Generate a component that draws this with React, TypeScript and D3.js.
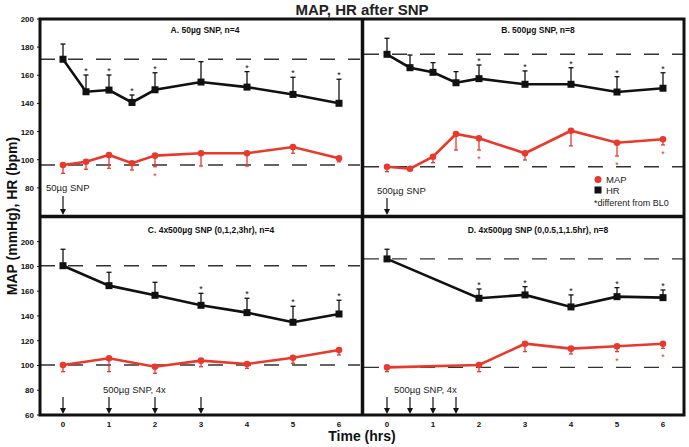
import React from "react";
import * as d3 from "d3";

// ---------- data ----------
const timesA = [0, 0.5, 1, 1.5, 2, 3, 4, 5, 6];
const hrA = [171.4, 148.3, 149.5, 140.7, 149.7, 155.2, 151.6, 146.4, 140.1];
const hrErrA = [10.8, 11.9, 10.7, 5.3, 12.1, 14.5, 11, 12.2, 17.1];
const hrSigA = [0.5, 1, 1.5, 2, 4, 5, 6];
const mapA = [96.2, 98.6, 103.4, 97.5, 102.9, 104.6, 104.6, 109, 101];
const mapErrA = [5.9, 5.4, 9.5, 4.8, 7.9, 9.1, 9.1, 4.4, 2.5];
const mapSigA = [2];

const timesB = [0, 0.5, 1, 1.5, 2, 3, 4, 5, 6];
const hrB = [174.9, 165.4, 162.1, 154.7, 157.6, 153.6, 153.6, 148.1, 150.8];
const hrErrB = [11.4, 9, 6.9, 7.9, 9.7, 9.5, 11.8, 10.9, 11];
const hrSigB = [2, 3, 4, 5, 6];
const mapB = [95, 93.6, 102.1, 118.3, 115.2, 104.6, 120.6, 112.1, 114.5];
const mapErrB = [3.5, 0.9, 4.2, 11.4, 8.3, 4.8, 10.8, 9.5, 4];
const mapSigB = [2, 5, 6];

const timesC = [0, 1, 2, 3, 4, 5, 6];
const hrC = [180.6, 164.5, 156.7, 148.6, 142.7, 134.9, 141.6];
const hrErrC = [13.3, 10.8, 10.5, 9.7, 11.6, 12.9, 11.1];
const hrSigC = [3, 4, 5, 6];
const mapC = [100.4, 105.8, 99, 103.9, 101.2, 106.3, 112.5];
const mapErrC = [5.4, 10.8, 5.3, 4.9, 3.5, 4.5, 4];
const mapSigC: number[] = [];

const timesD = [0, 2, 3, 4, 5, 6];
const hrD = [186.1, 154.3, 157, 147.3, 155.6, 154.8];
const hrErrD = [7.8, 7.5, 6.7, 9.7, 7.3, 6.2];
const hrSigD = [2, 3, 4, 5, 6];
const mapD = [98.5, 100.4, 117.6, 113.6, 115.5, 117.6];
const mapErrD = [3.5, 5.4, 6.4, 4.3, 4.3, 3.7];
const mapSigD = [5, 6];

const titles = [
  "A. 50µg SNP, n=4",
  "B. 500µg SNP, n=8",
  "C. 4x500µg SNP (0,1,2,3hr), n=4",
  "D. 4x500µg SNP (0,0.5,1,1.5hr), n=8",
];
const doseLabels = ["50µg SNP", "500µg SNP", "500µg SNP, 4x", "500µg SNP, 4x"];
const doseTimesA = [0];
const doseTimesB = [0];
const doseTimesC = [0, 1, 2, 3];
const doseTimesD = [0, 0.5, 1, 1.5];

const topYTicks = [80, 100, 120, 140, 160, 180, 200];
const bottomYTicks = [60, 80, 100, 120, 140, 160, 180, 200];
const xTicks = [0, 1, 2, 3, 4, 5, 6];

// ---------- layout ----------
const FONT = "'Liberation Sans', Arial, Helvetica, sans-serif";
const RED = "#e8392d";
const xLeft = d3.scaleLinear().domain([-0.5, 6.5]).range([40, 362]);
const xRight = d3.scaleLinear().domain([-0.5, 6.5]).range([364, 686]);
const yTop = d3.scaleLinear().domain([60, 200]).range([216, 19]);
const yBot = d3.scaleLinear().domain([60, 200]).range([415, 241.7]);

type PanelDef = {
  times: number[];
  hr: number[];
  hrErr: number[];
  hrSig: number[];
  map: number[];
  mapErr: number[];
  mapSig: number[];
  doses: number[];
  title: string;
  dose: string;
  x: d3.ScaleLinear<number, number>;
  y: d3.ScaleLinear<number, number>;
  titleX: number;
  titleY: number;
  doseX: number;
  doseY: number;
  arrowTop: number;
};

const panels: PanelDef[] = [
  { times: timesA, hr: hrA, hrErr: hrErrA, hrSig: hrSigA, map: mapA, mapErr: mapErrA, mapSig: mapSigA, doses: doseTimesA, title: titles[0], dose: doseLabels[0], x: xLeft, y: yTop, titleX: 205, titleY: 33, doseX: 46, doseY: 191, arrowTop: 196 },
  { times: timesB, hr: hrB, hrErr: hrErrB, hrSig: hrSigB, map: mapB, mapErr: mapErrB, mapSig: mapSigB, doses: doseTimesB, title: titles[1], dose: doseLabels[1], x: xRight, y: yTop, titleX: 538, titleY: 33, doseX: 377, doseY: 194, arrowTop: 198 },
  { times: timesC, hr: hrC, hrErr: hrErrC, hrSig: hrSigC, map: mapC, mapErr: mapErrC, mapSig: mapSigC, doses: doseTimesC, title: titles[2], dose: doseLabels[2], x: xLeft, y: yBot, titleX: 211, titleY: 233, doseX: 103, doseY: 393, arrowTop: 397 },
  { times: timesD, hr: hrD, hrErr: hrErrD, hrSig: hrSigD, map: mapD, mapErr: mapErrD, mapSig: mapSigD, doses: doseTimesD, title: titles[3], dose: doseLabels[3], x: xRight, y: yBot, titleX: 538, titleY: 233, doseX: 394, doseY: 393, arrowTop: 397 },
];

function Panel({ p }: { p: PanelDef }) {
  const { x, y } = p;
  const [x0, x1] = x.range();
  const axisY = y.range()[0];
  const lineGen = d3
    .line<[number, number]>()
    .x((d) => x(d[0]))
    .y((d) => y(d[1]));
  const hrPts = p.times.map((t, i) => [t, p.hr[i]] as [number, number]);
  const mapPts = p.times.map((t, i) => [t, p.map[i]] as [number, number]);
  return (
    <g>
      {/* baselines */}
      {[p.hr[0], p.map[0]].map((v, i) => (
        <line key={i} x1={x0} x2={x1 - 2} y1={y(v)} y2={y(v)} stroke="#333" strokeWidth={1.4} strokeDasharray="15,13" />
      ))}
      <text x={p.titleX} y={p.titleY} textAnchor="middle" fontFamily={FONT} fontWeight="bold" fontSize={8.5} fill="#111">
        {p.title}
      </text>
      {/* HR error bars */}
      {p.times.map((t, i) => {
        const cx = x(t);
        const top = y(p.hr[i] + p.hrErr[i]);
        return (
          <g key={"he" + i}>
            <line x1={cx} x2={cx} y1={y(p.hr[i])} y2={top} stroke="#111" strokeWidth={1.3} />
            <line x1={cx - 2.5} x2={cx + 2.5} y1={top} y2={top} stroke="#111" strokeWidth={1.3} />
            {p.hrSig.includes(t) && (
              <text x={cx} y={top - 1} textAnchor="middle" fontFamily={FONT} fontSize={9} fill="#111">*</text>
            )}
          </g>
        );
      })}
      {/* MAP error bars */}
      {p.times.map((t, i) => {
        const cx = x(t);
        const bot = y(p.map[i] - p.mapErr[i]);
        return (
          <g key={"me" + i}>
            <line x1={cx} x2={cx} y1={y(p.map[i])} y2={bot} stroke={RED} strokeWidth={1.3} />
            <line x1={cx - 2} x2={cx + 2} y1={bot} y2={bot} stroke={RED} strokeWidth={1.3} />
            {p.mapSig.includes(t) && (
              <text x={cx} y={bot + 12} textAnchor="middle" fontFamily={FONT} fontSize={9} fill={RED}>*</text>
            )}
          </g>
        );
      })}
      <path d={lineGen(hrPts) || ""} fill="none" stroke="#111" strokeWidth={2.6} />
      <path d={lineGen(mapPts) || ""} fill="none" stroke={RED} strokeWidth={2.6} />
      {hrPts.map((d, i) => (
        <rect key={"hs" + i} x={x(d[0]) - 3.5} y={y(d[1]) - 3.5} width={7} height={7} fill="#111" />
      ))}
      {mapPts.map((d, i) => (
        <circle key={"mc" + i} cx={x(d[0])} cy={y(d[1])} r={3.3} fill={RED} />
      ))}
      {/* dose arrows */}
      <text x={p.doseX} y={p.doseY} fontFamily={FONT} fontSize={9.5} fill="#222">{p.dose}</text>
      {p.doses.map((t, i) => {
        const cx = x(t);
        return (
          <g key={"ar" + i}>
            <line x1={cx} x2={cx} y1={p.arrowTop} y2={axisY - 5} stroke="#111" strokeWidth={1.2} />
            <path d={`M${cx - 3},${axisY - 7} L${cx + 3},${axisY - 7} L${cx},${axisY - 1} Z`} fill="#111" />
          </g>
        );
      })}
    </g>
  );
}

export default function App() {
  return (
    <svg width={689} height={447} style={{ position: "absolute", left: 0, top: 0, background: "#fff" }}>
      <rect x={0} y={0} width={689} height={447} fill="#fff" />
      <text x={362} y={15} textAnchor="middle" fontFamily={FONT} fontWeight="bold" fontSize={15} fill="#222">
        MAP, HR after SNP
      </text>
      {panels.map((p, i) => (
        <Panel key={i} p={p} />
      ))}
      {/* y ticks */}
      {topYTicks.map((v) => (
        <g key={"tt" + v}>
          <line x1={37} x2={40} y1={yTop(v)} y2={yTop(v)} stroke="#111" strokeWidth={1} />
          <text x={34} y={yTop(v) + 3} textAnchor="end" fontFamily={FONT} fontWeight="bold" fontSize={8} fill="#111">{v}</text>
        </g>
      ))}
      {bottomYTicks.map((v) => (
        <g key={"bt" + v}>
          <line x1={37} x2={40} y1={yBot(v)} y2={yBot(v)} stroke="#111" strokeWidth={1} />
          <text x={34} y={yBot(v) + 3} textAnchor="end" fontFamily={FONT} fontWeight="bold" fontSize={8} fill="#111">{v}</text>
        </g>
      ))}
      {/* x ticks */}
      {[xLeft, xRight].map((xs, j) =>
        xTicks.map((t) => (
          <text key={j + "x" + t} x={xs(t)} y={427} textAnchor="middle" fontFamily={FONT} fontWeight="bold" fontSize={8} fill="#111">{t}</text>
        ))
      )}
      {/* frame */}
      <rect x={40} y={19} width={644} height={396} fill="none" stroke="#111" strokeWidth={3} />
      <line x1={40} x2={684} y1={216.5} y2={216.5} stroke="#111" strokeWidth={3.5} />
      <line x1={362.5} x2={362.5} y1={19} y2={415} stroke="#111" strokeWidth={3.5} />
      {/* legend */}
      <circle cx={598} cy={179.5} r={3.5} fill={RED} />
      <text x={606} y={183} fontFamily={FONT} fontSize={9.5} fill="#222">MAP</text>
      <rect x={594.5} y={186.5} width={7} height={7} fill="#111" />
      <text x={606} y={194} fontFamily={FONT} fontSize={9.5} fill="#222">HR</text>
      <text x={594} y={206} fontFamily={FONT} fontSize={9} fill="#222">*different from BL0</text>
      {/* axis titles */}
      <text x={362} y={441} textAnchor="middle" fontFamily={FONT} fontWeight="bold" fontSize={14} fill="#111">Time (hrs)</text>
      <text transform="translate(17,216) rotate(-90)" textAnchor="middle" fontFamily={FONT} fontWeight="bold" fontSize={14} fill="#111">
        MAP (mmHg), HR (bpm)
      </text>
    </svg>
  );
}
